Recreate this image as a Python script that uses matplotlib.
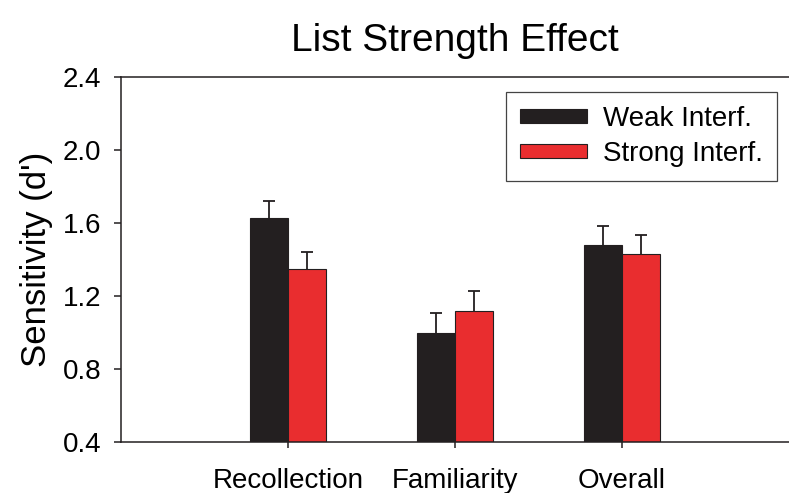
import numpy as np
import matplotlib
matplotlib.use('Agg')
import matplotlib.pyplot as plt

plt.rcParams['font.family'] = ['Liberation Sans', 'DejaVu Sans']

# sensitivity (d') per measure and interference condition
categories = ['Recollection', 'Familiarity', 'Overall']
weak = [1.63, 1.00, 1.48]
strong = [1.35, 1.12, 1.43]
weak_err = [0.09, 0.105, 0.105]
strong_err = [0.09, 0.105, 0.105]
yticks = [0.4, 0.8, 1.2, 1.6, 2.0, 2.4]

black = '#231f20'
red = '#e92d2f'

# axes run a little past the right edge of the figure
fig = plt.figure(figsize=(7.89, 4.93), dpi=100)
ax = fig.add_axes([121 / 789, 1 - 442 / 493, 680 / 789, 365 / 493])

x = np.arange(1, len(categories) + 1)
w = 0.228

# upper whiskers only: hide the cap that would sit on the bar top
for xs, vals, errs in [(x - w / 2, weak, weak_err), (x + w / 2, strong, strong_err)]:
    eb = ax.errorbar(xs, vals, yerr=[np.zeros(3), errs], fmt='none',
                     ecolor=black, elinewidth=1.3, capsize=4.5, capthick=1.3,
                     zorder=1)
    eb[1][0].set_visible(False)

b1 = ax.bar(x - w / 2, np.array(weak) - 0.4, w, bottom=0.4, color=black,
            edgecolor=black, linewidth=0.8, zorder=2, label='Weak Interf.')
b2 = ax.bar(x + w / 2, np.array(strong) - 0.4, w, bottom=0.4, color=red,
            edgecolor=black, linewidth=0.8, zorder=2, label='Strong Interf.')

ax.set_xlim(0, 680 / 167)
ax.set_ylim(0.4, 2.4)
ax.set_yticks(yticks)
ax.set_yticklabels(['%.1f' % v for v in yticks])
ax.set_xticks(x)
ax.set_xticklabels(categories)

ax.spines['right'].set_visible(False)
for s in ['left', 'bottom', 'top']:
    ax.spines[s].set_linewidth(1.1)
    ax.spines[s].set_color(black)

ax.tick_params(axis='y', direction='out', length=5, width=1.1, pad=9,
               labelsize=20, color=black)
ax.tick_params(axis='x', direction='out', length=4, width=1.1, pad=15,
               labelsize=20, color=black)

ax.set_ylabel("Sensitivity (d')", fontsize=25, labelpad=7)
ax.set_title('List Strength Effect', fontsize=28, pad=19, x=334 / 680)

leg = ax.legend(handles=[b1, b2], loc='upper right',
                bbox_to_anchor=(656 / 680, 0.959), borderaxespad=0,
                fontsize=20, handlelength=2.4, handleheight=0.4,
                labelspacing=0.32, handletextpad=0.6, borderpad=0.5,
                fancybox=False, framealpha=1)
leg.get_frame().set_edgecolor('#444444')
leg.get_frame().set_linewidth(0.9)

fig.savefig('out.png', dpi=100)
